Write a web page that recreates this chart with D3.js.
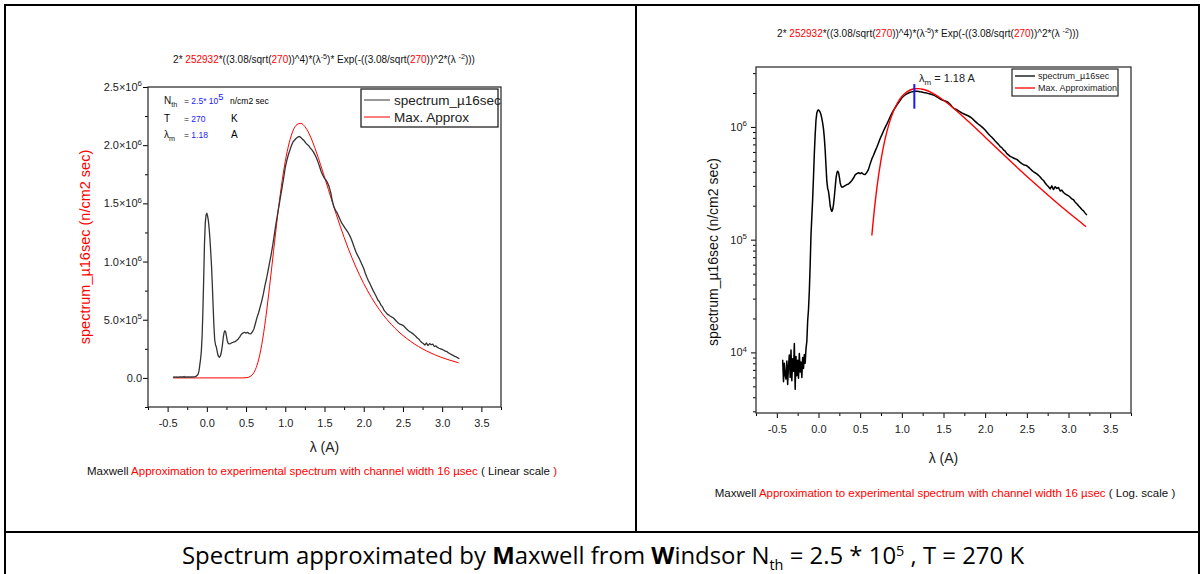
<!DOCTYPE html>
<html>
<head>
<meta charset="utf-8">
<script src="https://cdn.jsdelivr.net/npm/d3@7"></script>
<style>
  body { margin: 0; background: #fff; }
  svg { display: block; font-family: "Liberation Sans", Arial, sans-serif; }
</style>
</head>
<body>
<svg id="page" width="1202" height="574"></svg>
<script>
/* Data */
// measured spectrum [lambda (A), n/cm2 sec]
const spectrum = [
  [-0.43,8600],[-0.42,5500],[-0.41,8000],[-0.40,6300],[-0.39,5800],[-0.38,8400],[-0.37,5200],
  [-0.36,7600],[-0.35,9500],[-0.34,6000],[-0.33,10500],[-0.32,5600],[-0.31,8800],[-0.30,6800],
  [-0.29,12000],[-0.28,4700],[-0.27,9200],[-0.26,6200],[-0.25,8500],[-0.24,5900],[-0.23,9800],
  [-0.22,6700],[-0.21,8200],[-0.20,6000],[-0.19,9000],[-0.18,7200],[-0.17,9600],[-0.16,8000],
  [-0.15,10800],[-0.14,12500],[-0.13,19000],[-0.12,24000],[-0.11,35000],[-0.10,60000],
  [-0.09,110000],[-0.08,160000],[-0.07,230000],[-0.06,360000],[-0.05,580000],[-0.04,850000],
  [-0.03,1150000],[-0.02,1330000],[-0.01,1400000],[0.00,1415000],[0.01,1390000],[0.02,1350000],
  [0.03,1280000],[0.04,1190000],[0.05,1080000],[0.06,960000],[0.07,800000],[0.08,620000],
  [0.09,450000],[0.10,330000],[0.11,285000],[0.12,268000],[0.13,235000],[0.14,200000],
  [0.15,185000],[0.16,178000],[0.17,185000],[0.18,205000],[0.19,240000],[0.20,290000],
  [0.21,350000],[0.22,390000],[0.23,405000],[0.24,395000],[0.25,360000],[0.26,320000],
  [0.27,300000],[0.28,292000],[0.30,295000],[0.32,302000],[0.34,308000],[0.36,312000],
  [0.38,322000],[0.40,335000],[0.42,352000],[0.44,375000],[0.46,385000],[0.48,392000],
  [0.50,385000],[0.52,392000],[0.54,380000],[0.56,378000],[0.58,395000],[0.60,420000],
  [0.62,470000],[0.64,520000],[0.66,560000],[0.68,610000],[0.70,660000],[0.72,720000],
  [0.74,790000],[0.76,850000],[0.78,920000],[0.80,990000],[0.82,1060000],[0.84,1140000],
  [0.86,1230000],[0.88,1320000],[0.90,1400000],[0.92,1480000],[0.94,1560000],[0.96,1640000],
  [0.98,1720000],[1.00,1810000],[1.02,1870000],[1.04,1920000],[1.06,1960000],[1.08,2000000],
  [1.10,2030000],[1.12,2045000],[1.14,2060000],[1.16,2070000],[1.18,2075000],[1.20,2065000],
  [1.22,2050000],[1.24,2040000],[1.26,2020000],[1.28,2005000],[1.30,1995000],[1.32,1975000],
  [1.34,1960000],[1.36,1940000],[1.38,1915000],[1.40,1885000],[1.42,1850000],[1.44,1810000],
  [1.46,1770000],[1.48,1740000],[1.50,1715000],[1.52,1700000],[1.54,1675000],[1.56,1640000],
  [1.58,1590000],[1.60,1520000],[1.62,1470000],[1.64,1440000],[1.66,1420000],[1.68,1390000],
  [1.70,1360000],[1.72,1330000],[1.74,1310000],[1.76,1290000],[1.78,1270000],[1.80,1250000],
  [1.82,1225000],[1.84,1195000],[1.86,1160000],[1.88,1120000],[1.90,1085000],[1.92,1055000],
  [1.94,1030000],[1.96,1000000],[1.98,970000],[2.00,940000],[2.02,900000],[2.04,865000],
  [2.06,835000],[2.08,810000],[2.10,780000],[2.12,750000],[2.14,725000],[2.16,700000],
  [2.18,670000],[2.20,655000],[2.22,625000],[2.24,610000],[2.26,580000],[2.28,565000],
  [2.30,548000],[2.32,540000],[2.34,530000],[2.36,522000],[2.38,515000],[2.40,500000],
  [2.42,485000],[2.44,472000],[2.46,462000],[2.48,458000],[2.50,452000],[2.52,440000],
  [2.54,425000],[2.56,412000],[2.58,400000],[2.60,392000],[2.62,383000],[2.64,372000],
  [2.66,360000],[2.68,345000],[2.70,335000],[2.72,318000],[2.74,305000],[2.76,295000],
  [2.78,282000],[2.80,300000],[2.82,278000],[2.84,295000],[2.86,285000],[2.88,290000],
  [2.90,270000],[2.92,275000],[2.94,262000],[2.96,255000],[2.98,250000],[3.00,245000],
  [3.02,238000],[3.04,230000],[3.06,226000],[3.08,215000],[3.10,208000],[3.12,200000],
  [3.14,193000],[3.16,185000],[3.18,180000],[3.20,172000],[3.22,165000]
];

// Maxwell approximation curve [lambda (A), n/cm2 sec]
const maxApprox = [
  [-0.43,0],[0.00,0],[0.40,0],[0.45,100],[0.50,1600],[0.55,11200],[0.60,46000],[0.64,109000],
  [0.65,131000],[0.70,286000],[0.75,510000],[0.80,787000],[0.85,1086000],[0.90,1382000],
  [0.95,1646000],[1.00,1861000],[1.05,2020000],[1.10,2126000],[1.15,2178000],[1.20,2188000],
  [1.25,2159000],[1.30,2104000],[1.35,2026000],[1.40,1933000],[1.50,1726000],[1.60,1510000],
  [1.70,1304000],[1.80,1117000],[1.90,953000],[2.00,811000],[2.20,586000],[2.40,426000],
  [2.60,313000],[2.80,232000],[3.00,174000],[3.20,132000],[3.21,130000]
];

const xMajor = [-0.5, 0, 0.5, 1, 1.5, 2, 2.5, 3, 3.5];
const xMinor = [-0.75, -0.25, 0.25, 0.75, 1.25, 1.75, 2.25, 2.75, 3.25, 3.75];
const linMajor = [0, 5e5, 1e6, 1.5e6, 2e6, 2.5e6];
const linMant = ["0.0", "5.0×10", "1.0×10", "1.5×10", "2.0×10", "2.5×10"];
const linExp = ["", "5", "6", "6", "6", "6"];
const linMinor = [-2.5e5, 2.5e5, 7.5e5, 1.25e6, 1.75e6, 2.25e6];
const logMajor = [1e4, 1e5, 1e6];
const logExp = ["4", "5", "6"];
const logMinor = [3e3,4e3,5e3,6e3,7e3,8e3,9e3,2e4,3e4,4e4,5e4,6e4,7e4,8e4,9e4,
                  2e5,3e5,4e5,5e5,6e5,7e5,8e5,9e5,2e6,3e6];
const logStart = 0.64;        // log panel shows the approximation from here
const peakMark = [1.15, 1.45e6, 2.4e6];

const RED = "#ff0000", BLUE = "#1a1aff", AXIS = "#333";
const svg = d3.select("#page");

/* Helpers */
function rich(g, x, y, parts, size, anchor) {
  // text with coloured / raised / lowered pieces
  const t = g.append("text").attr("x", x).attr("y", y)
    .attr("font-size", size).attr("text-anchor", anchor || "start").attr("fill", "#111");
  let shift = 0;
  parts.forEach(p => {
    const target = p.sup ? -size * 0.42 : p.sub ? size * 0.28 : 0;
    const s = t.append("tspan").text(p.t).attr("dy", target - shift);
    shift = target;
    if (p.sup || p.sub) s.attr("font-size", size * (p.big ? 1.1 : 0.72));
    if (p.fill) s.attr("fill", p.fill);
    if (p.bold) s.attr("font-weight", "bold");
  });
  return t;
}

function xAxes(g, x, y1) {
  g.append("g").attr("transform", "translate(0," + y1 + ")")
    .call(d3.axisBottom(x).tickValues(xMajor).tickSize(5).tickPadding(7)
      .tickFormat(d => d.toFixed(1)))
    .call(a => a.select(".domain").remove())
    .call(a => a.selectAll("text").attr("font-size", 11).attr("fill", "#222")
      .attr("font-family", "Liberation Sans, Arial, sans-serif"));
  g.append("g").attr("transform", "translate(0," + y1 + ")")
    .call(d3.axisBottom(x).tickValues(xMinor).tickSize(3).tickFormat(""))
    .call(a => a.select(".domain").remove());
}

function frame(g, b) {
  g.append("rect").attr("x", b.x0).attr("y", b.y0)
    .attr("width", b.x1 - b.x0).attr("height", b.y1 - b.y0)
    .attr("fill", "none").attr("stroke", AXIS).attr("stroke-width", 1.3);
}

const titleParts = [
  {t: "2* "}, {t: "252932", fill: RED}, {t: "*((3.08/sqrt("}, {t: "270", fill: RED},
  {t: "))^4)*(λ"}, {t: "-5", sup: true}, {t: ")* Exp(-((3.08/sqrt("}, {t: "270", fill: RED},
  {t: "))^2*(λ "}, {t: "-2", sup: true}, {t: ")))"}
];

/* Left panel: linear scale */
function makeLinear() {
  const b = {x0: 148, x1: 501, y0: 87, y1: 407};
  const g = svg.append("g");
  const x = d3.scaleLinear().domain([-0.75, 3.75]).range([b.x0, b.x1]);
  const y = d3.scaleLinear().domain([-2.5e5, 2.5e6]).range([b.y1, b.y0]);

  rich(g, 324, 63, titleParts, 10, "middle");

  xAxes(g, x, b.y1);
  g.append("g").attr("transform", "translate(" + b.x0 + ",0)")
    .call(d3.axisLeft(y).tickValues(linMajor).tickSize(5).tickFormat(""))
    .call(a => a.select(".domain").remove());
  g.append("g").attr("transform", "translate(" + b.x0 + ",0)")
    .call(d3.axisLeft(y).tickValues(linMinor).tickSize(3).tickFormat(""))
    .call(a => a.select(".domain").remove());
  linMajor.forEach((v, i) => {
    const parts = [{t: linMant[i]}];
    if (linExp[i]) parts.push({t: linExp[i], sup: true});
    rich(g, b.x0 - 6, y(v) + 4, parts, 11, "end").attr("fill", "#222");
  });
  frame(g, b);

  g.append("path").datum(maxApprox)
    .attr("d", d3.line().x(d => x(d[0])).y(d => y(d[1])).curve(d3.curveMonotoneX))
    .attr("fill", "none").attr("stroke", RED).attr("stroke-width", 1);
  g.append("path").datum(spectrum)
    .attr("d", d3.line().x(d => x(d[0])).y(d => y(d[1])))
    .attr("fill", "none").attr("stroke", "#333").attr("stroke-width", 1.3)
    .attr("stroke-linejoin", "round");

  g.append("text").attr("x", (b.x0 + b.x1) / 2).attr("y", 452).attr("text-anchor", "middle")
    .attr("font-size", 14).attr("fill", "#222").text("λ (A)");
  g.append("text").attr("transform", "translate(90,247) rotate(-90)")
    .attr("text-anchor", "middle").attr("font-size", 14.5).attr("fill", RED)
    .text("spectrum_µ16sec (n/cm2 sec)");

  // legend
  g.append("rect").attr("x", 361).attr("y", 89).attr("width", 137).attr("height", 38)
    .attr("fill", "#fff").attr("stroke", "#222").attr("stroke-width", 1.3);
  g.append("line").attr("x1", 364).attr("x2", 390).attr("y1", 100).attr("y2", 100)
    .attr("stroke", "#555").attr("stroke-width", 1.2);
  g.append("line").attr("x1", 364).attr("x2", 390).attr("y1", 117).attr("y2", 117)
    .attr("stroke", RED).attr("stroke-width", 1);
  g.append("text").attr("x", 394).attr("y", 105).attr("font-size", 13.5).attr("fill", "#222")
    .text("spectrum_µ16sec");
  g.append("text").attr("x", 394).attr("y", 122).attr("font-size", 13.5).attr("fill", "#222")
    .text("Max. Approx");

  // parameter block
  rich(g, 164, 104, [{t: "N"}, {t: "th", sub: true}], 10);
  rich(g, 184, 104, [{t: "= "}, {t: "2.5* 10", fill: BLUE}, {t: "5", sup: true, big: true, fill: BLUE}], 8.5);
  g.append("text").attr("x", 230).attr("y", 104).attr("font-size", 8.5).text("n/cm2 sec");
  g.append("text").attr("x", 164).attr("y", 122).attr("font-size", 10).text("T");
  rich(g, 184, 122, [{t: "= "}, {t: "270", fill: BLUE}], 8.5);
  g.append("text").attr("x", 231).attr("y", 122).attr("font-size", 10).text("K");
  rich(g, 164, 138, [{t: "λ"}, {t: "m", sub: true}], 10);
  rich(g, 184, 138, [{t: "= "}, {t: "1.18", fill: BLUE}], 8.5);
  g.append("text").attr("x", 231).attr("y", 138).attr("font-size", 10).text("A");

  rich(g, 322, 475, [{t: "Maxwell "},
    {t: "Approximation to experimental spectrum with channel width 16 µsec", fill: RED},
    {t: " ( Linear scale "}, {t: ")", fill: RED}], 11.5, "middle");
}

/* Right panel: log scale */
function makeLog() {
  const b = {x0: 756, x1: 1131, y0: 67, y1: 413};
  const g = svg.append("g");
  const x = d3.scaleLinear().domain([-0.75, 3.75]).range([b.x0, b.x1]);
  const y = d3.scaleLog().domain([2.9e3, 3.4e6]).range([b.y1, b.y0]);

  rich(g, 928, 37, titleParts, 10, "middle");

  xAxes(g, x, b.y1);
  g.append("g").attr("transform", "translate(" + b.x0 + ",0)")
    .call(d3.axisLeft(y).tickValues(logMajor).tickSize(5).tickFormat(""))
    .call(a => a.select(".domain").remove());
  g.append("g").attr("transform", "translate(" + b.x0 + ",0)")
    .call(d3.axisLeft(y).tickValues(logMinor).tickSize(3).tickFormat(""))
    .call(a => a.select(".domain").remove());
  logMajor.forEach((v, i) => {
    rich(g, b.x0 - 9, y(v) + 4, [{t: "10"}, {t: logExp[i], sup: true}], 11, "end")
      .attr("fill", "#222");
  });
  frame(g, b);

  g.append("path").datum(spectrum)
    .attr("d", d3.line().x(d => x(d[0])).y(d => y(d[1])))
    .attr("fill", "none").attr("stroke", "#000").attr("stroke-width", 1.5)
    .attr("stroke-linejoin", "round");
  g.append("path").datum(maxApprox.filter(d => d[0] >= logStart))
    .attr("d", d3.line().x(d => x(d[0])).y(d => y(d[1])).curve(d3.curveMonotoneX))
    .attr("fill", "none").attr("stroke", RED).attr("stroke-width", 1.4);

  g.append("line")
    .attr("x1", x(peakMark[0])).attr("x2", x(peakMark[0]))
    .attr("y1", y(peakMark[1])).attr("y2", y(peakMark[2]))
    .attr("stroke", BLUE).attr("stroke-width", 2);
  rich(g, 919, 82, [{t: "λ"}, {t: "m", sub: true}, {t: " = 1.18 A"}], 11).attr("fill", "#222");

  g.append("text").attr("x", (b.x0 + b.x1) / 2).attr("y", 463).attr("text-anchor", "middle")
    .attr("font-size", 14).attr("fill", "#222").text("λ (A)");
  g.append("text").attr("transform", "translate(718,252) rotate(-90)")
    .attr("text-anchor", "middle").attr("font-size", 14).attr("fill", "#111")
    .text("spectrum_µ16sec (n/cm2 sec)");

  // legend
  g.append("rect").attr("x", 1012).attr("y", 69).attr("width", 106).attr("height", 27)
    .attr("fill", "#fff").attr("stroke", "#222").attr("stroke-width", 1.2);
  g.append("line").attr("x1", 1015).attr("x2", 1035).attr("y1", 76).attr("y2", 76)
    .attr("stroke", "#000").attr("stroke-width", 1.3);
  g.append("line").attr("x1", 1015).attr("x2", 1035).attr("y1", 88).attr("y2", 88)
    .attr("stroke", RED).attr("stroke-width", 1.3);
  g.append("text").attr("x", 1038).attr("y", 79).attr("font-size", 9).attr("fill", "#222")
    .text("spectrum_µ16sec");
  g.append("text").attr("x", 1038).attr("y", 91).attr("font-size", 9).attr("fill", "#222")
    .text("Max. Approximation");

  rich(g, 945, 497, [{t: "Maxwell "},
    {t: "Approximation to experimental spectrum with channel width 16 µsec", fill: RED},
    {t: " ( Log. scale )"}], 11.5, "middle");
}

/* Table lines and the caption row */
function makeTable() {
  const g = svg.append("g").attr("stroke", "#000").attr("stroke-width", 2).attr("fill", "none");
  g.append("rect").attr("x", 5).attr("y", 5).attr("width", 1194).attr("height", 580);
  g.append("line").attr("x1", 636).attr("x2", 636).attr("y1", 5).attr("y2", 532);
  g.append("line").attr("x1", 5).attr("x2", 1199).attr("y1", 532).attr("y2", 532);

  const cap = rich(svg, 603, 564, [
    {t: "Spectrum approximated by "}, {t: "M", bold: true}, {t: "axwell from "},
    {t: "W", bold: true}, {t: "indsor N"}, {t: "th", sub: true}, {t: " = 2.5 * 10"},
    {t: "5", sup: true}, {t: " , T = 270 K"}], 20, "middle")
    .attr("font-family", "'Open Sans', sans-serif").attr("fill", "#000");
  const w = cap.node().getComputedTextLength();
  cap.attr("font-size", 20 * 847 / w);
}

makeLinear();
makeLog();
makeTable();
</script>
</body>
</html>
